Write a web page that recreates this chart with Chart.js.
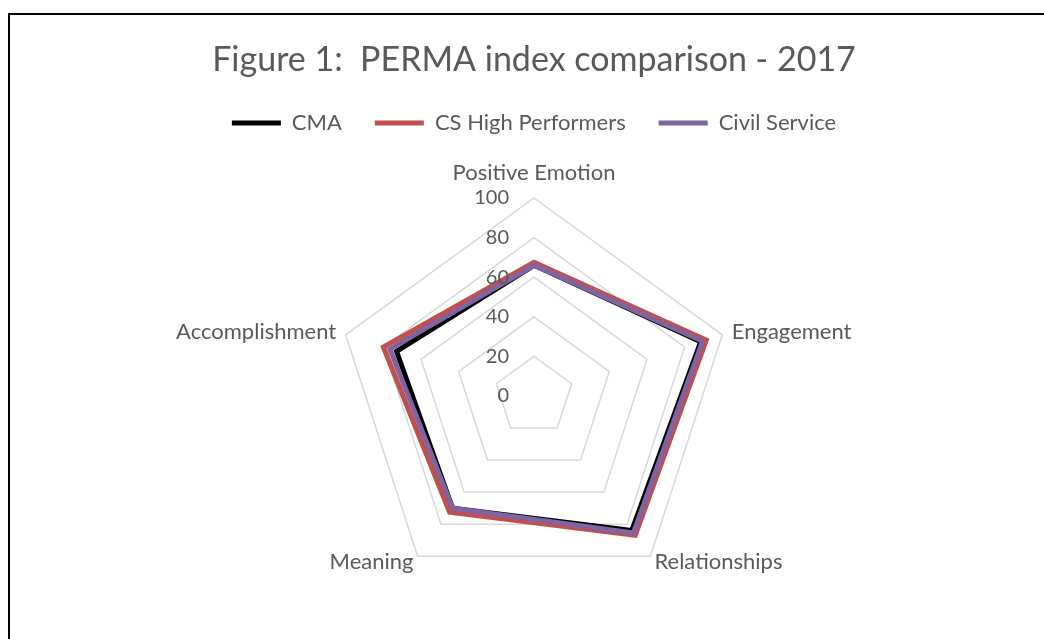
<!DOCTYPE html>
<html>
<head>
<meta charset="utf-8">
<script src="https://cdn.jsdelivr.net/npm/chart.js@4.4.1/dist/chart.umd.min.js"></script>
<style>
  body { margin: 0; background: #fff; }
  #wrap { position: relative; width: 1044px; height: 639px; overflow: hidden; }
  #frame { position: absolute; left: 8px; top: 13px; width: 1100px; height: 700px;
           border-top: 2px solid #000; border-left: 2px solid #000; pointer-events: none; }
</style>
</head>
<body>
<div id="wrap">
  <canvas id="permaChart" width="1044" height="639"></canvas>
  <div id="frame"></div>
</div>
<script>
// data
const categories = ['Positive Emotion', 'Engagement', 'Relationships', 'Meaning', 'Accomplishment']
const cmaValues = [66, 88.5, 84, 70, 73]
const csHighValues = [67.5, 91.5, 87, 72.5, 80]
const civilValues = [66, 89.5, 85.5, 70, 76.5]
const tickValues = [0, 20, 40, 60, 80, 100]

const textColor = '#595959'
const fontFamily = 'Lato, "Open Sans", sans-serif'

// push the plot down below the legend
const legendMargin = {
    id: 'legendMargin',
    beforeInit(chart) {
        const fitValue = chart.legend.fit
        chart.legend.fit = function fit() {
            fitValue.bind(chart.legend)()
            this.height += 54
        }
    }
}

// excel style tick labels (left of the axis) and category labels
const radarText = {
    id: 'radarText',
    afterDraw(chart) {
        const ctx = chart.ctx
        const scale = chart.scales.r
        ctx.save()
        ctx.fillStyle = textColor
        ctx.font = '20px ' + fontFamily
        ctx.textBaseline = 'middle'
        ctx.textAlign = 'right'
        tickValues.forEach(function (v) {
            const y = scale.yCenter - scale.getDistanceFromCenterForValue(v)
            ctx.fillText(String(v), scale.xCenter - 25, y)
        })
        ctx.font = '22px ' + fontFamily
        categories.forEach(function (label, i) {
            const probe = scale.getPointPosition(i, scale.drawingArea)
            let extra = 10
            if (i === 0) extra = 25
            if (probe.y > scale.yCenter + 20) extra = 7
            const pos = scale.getPointPosition(i, scale.drawingArea + extra)
            if (Math.abs(pos.x - scale.xCenter) < 2) ctx.textAlign = 'center'
            else if (pos.x > scale.xCenter) ctx.textAlign = 'left'
            else ctx.textAlign = 'right'
            ctx.fillText(label, pos.x, pos.y)
        })
        ctx.restore()
    }
}

const data = {
    labels: categories,
    datasets: [{
        label: 'CMA',
        data: cmaValues,
        borderColor: '#000000',
        backgroundColor: '#000000',
        borderWidth: 5,
        fill: false,
        pointRadius: 0,
        borderJoinStyle: 'miter',
        order: 3
    }, {
        label: 'CS High Performers',
        data: csHighValues,
        borderColor: '#C0504D',
        backgroundColor: '#C0504D',
        borderWidth: 5,
        fill: false,
        pointRadius: 0,
        borderJoinStyle: 'miter',
        order: 2
    }, {
        label: 'Civil Service',
        data: civilValues,
        borderColor: '#8064A2',
        backgroundColor: '#8064A2',
        borderWidth: 5,
        fill: false,
        pointRadius: 0,
        borderJoinStyle: 'miter',
        order: 1
    }]
}

const config = {
    type: 'radar',
    data,
    options: {
        responsive: false,
        animation: false,
        layout: {
            padding: { left: 24, right: 0, top: 0, bottom: 44 }
        },
        plugins: {
            title: {
                display: true,
                text: 'Figure 1:  PERMA index comparison - 2017',
                color: textColor,
                font: { family: fontFamily, size: 34, weight: 'normal', lineHeight: 1.1 },
                padding: { top: 41.7, bottom: 0 }
            },
            legend: {
                display: true,
                labels: {
                    color: textColor,
                    font: { family: fontFamily, size: 22 },
                    boxWidth: 49,
                    boxHeight: 5,
                    padding: 33,
                    sort: function (a, b) { return a.datasetIndex - b.datasetIndex },
                    generateLabels(chart) {
                        const items = Chart.defaults.plugins.legend.labels.generateLabels(chart)
                        items.forEach(function (it) { it.lineWidth = 0 })
                        return items
                    }
                }
            },
            tooltip: { enabled: false }
        },
        scales: {
            r: {
                min: 0,
                max: 100,
                ticks: { stepSize: 20, display: false },
                grid: { color: '#d9d9d9', lineWidth: 1.5 },
                angleLines: { display: false },
                pointLabels: { display: false }
            }
        }
    },
    plugins: [legendMargin, radarText]
}

let myChart = new Chart(document.getElementById('permaChart'), config)
</script>
</body>
</html>
